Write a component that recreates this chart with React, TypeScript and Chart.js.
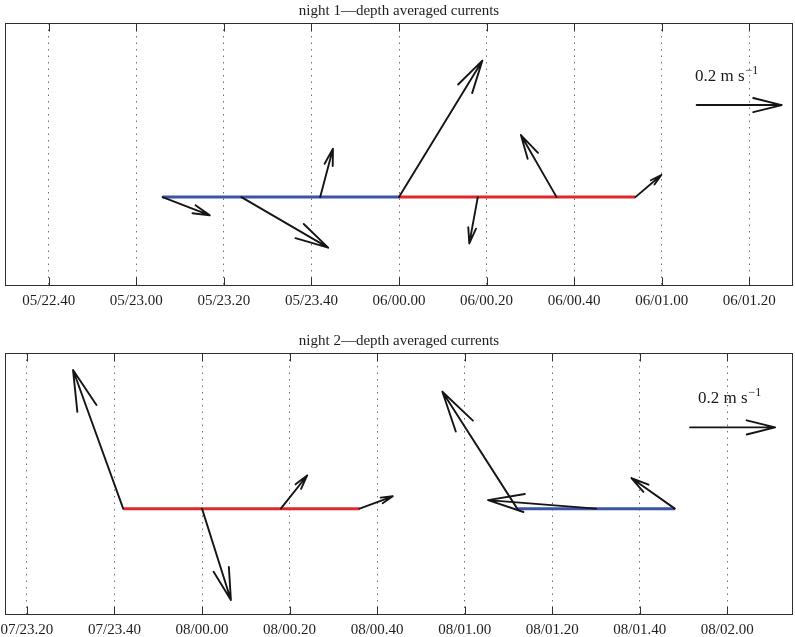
import React, { useEffect, useRef } from 'react';
import { Chart, registerables } from 'chart.js';

Chart.register(...registerables);

const FONT = '"Liberation Serif", "Times New Roman", Times, serif';

// ---------- Panel 1 (night 1) ----------
const TITLE_1 = 'night 1—depth averaged currents';
const TICKS_1 = [-80, -60, -40, -20, 0, 20, 40, 60, 80]; // minutes from 06/00.00
const TICK_LABELS_1 = ['05/22.40', '05/23.00', '05/23.20', '05/23.40', '06/00.00', '06/00.20', '06/00.40', '06/01.00', '06/01.20'];
const X_MIN_1 = -90;
const X_MAX_1 = 90;
const TIMES_1 = [-54, -36, -18, 0, 18, 36, 54];
const U_1 = [0.111, 0.204, 0.030, 0.196, -0.020, -0.084, 0.061]; // m/s east
const V_1 = [-0.043, -0.119, 0.114, 0.321, -0.109, 0.146, 0.052]; // m/s north
const BLUE_TRACK_1 = [-54, 0];
const RED_TRACK_1 = [0, 54];
const REF_X_1 = 68;

// ---------- Panel 2 (night 2) ----------
const TITLE_2 = 'night 2—depth averaged currents';
const TICKS_2 = [-40, -20, 0, 20, 40, 60, 80, 100, 120]; // minutes from 08/00.00
const TICK_LABELS_2 = ['07/23.20', '07/23.40', '08/00.00', '08/00.20', '08/00.40', '08/01.00', '08/01.20', '08/01.40', '08/02.00'];
const X_MIN_2 = -45;
const X_MAX_2 = 135;
const TIMES_2 = [-18, 0, 18, 36, 72, 90, 108];
const U_2 = [-0.118, 0.068, 0.062, 0.078, -0.176, -0.254, -0.102];
const V_2 = [0.326, -0.215, 0.078, 0.029, 0.275, 0.020, 0.072];
const RED_TRACK_2 = [-18, 36];
const BLUE_TRACK_2 = [72, 108];
const REF_X_2 = 111.5;

// reference arrow
const REF_SPEED = 0.2;
const REF_LABEL = '0.2 m s';
const REF_EXP = '−1';

// style constants
const QUIVER_MIN_PER_MS = 97.1; // arrow length: x-axis minutes per 1 m/s
const BLUE = '#3a55a3';
const RED = '#e0282d';
const ARROW_COLOR = '#151515';

type PanelCfg = {
  title: string;
  ticks: number[];
  tickLabels: string[];
  xMin: number;
  xMax: number;
  yMin: number;
  yMax: number;
  times: number[];
  u: number[];
  v: number[];
  tracks: { range: number[]; color: string }[];
  refX: number;
  refY: number;
  refLabelX: number;
  headCap: number;
  top: number;
  height: number;
  padBottom: number;
  axisHeight: number;
};

function drawArrow(ctx: CanvasRenderingContext2D, x0: number, y0: number, x1: number, y1: number, cap: number) {
  const L = Math.hypot(x1 - x0, y1 - y0);
  const h = Math.min(0.345 * L, cap);
  const a = Math.atan2(y1 - y0, x1 - x0);
  const da = (14 * Math.PI) / 180;
  ctx.beginPath();
  ctx.moveTo(x0, y0);
  ctx.lineTo(x1, y1);
  ctx.moveTo(x1 - h * Math.cos(a - da), y1 - h * Math.sin(a - da));
  ctx.lineTo(x1, y1);
  ctx.lineTo(x1 - h * Math.cos(a + da), y1 - h * Math.sin(a + da));
  ctx.stroke();
}

function Panel({ cfg }: { cfg: PanelCfg }) {
  const ref = useRef<HTMLCanvasElement | null>(null);
  useEffect(() => {
    if (!ref.current) return;
    const quiverPlugin = {
      id: 'quiver',
      afterDatasetsDraw(chart: any) {
        const ctx = chart.ctx as CanvasRenderingContext2D;
        const xs = chart.scales.x;
        const ys = chart.scales.y;
        const area = chart.chartArea;
        const pxPerMs = Math.abs(xs.getPixelForValue(QUIVER_MIN_PER_MS) - xs.getPixelForValue(0));
        ctx.save();
        ctx.strokeStyle = ARROW_COLOR;
        ctx.lineWidth = 1.9;
        ctx.lineCap = 'round';
        ctx.lineJoin = 'round';
        const yb = ys.getPixelForValue(0);
        cfg.times.forEach((t, i) => {
          const x0 = xs.getPixelForValue(t);
          drawArrow(ctx, x0, yb, x0 + cfg.u[i] * pxPerMs, yb - cfg.v[i] * pxPerMs, cfg.headCap);
        });
        // reference arrow
        const rx = xs.getPixelForValue(cfg.refX);
        const ry = ys.getPixelForValue(cfg.refY);
        drawArrow(ctx, rx, ry, rx + REF_SPEED * pxPerMs, ry, cfg.headCap);
        // label
        ctx.fillStyle = '#1a1a1a';
        ctx.font = `17px ${FONT}`;
        ctx.textBaseline = 'alphabetic';
        ctx.textAlign = 'left';
        const lx = xs.getPixelForValue(cfg.refLabelX);
        const ly = ry - 24;
        ctx.fillText(REF_LABEL, lx, ly);
        const w = ctx.measureText(REF_LABEL).width;
        ctx.font = `12px ${FONT}`;
        ctx.fillText(REF_EXP, lx + w + 1, ly - 7);
        ctx.restore();

        // frame and inward tick marks
        ctx.save();
        ctx.strokeStyle = '#2e2e2e';
        ctx.lineWidth = 1;
        const l = Math.round(area.left) + 0.5;
        const r = Math.round(area.right) - 0.5;
        const tp = Math.round(area.top) + 0.5;
        const bt = Math.round(area.bottom) - 0.5;
        ctx.strokeRect(l, tp, r - l, bt - tp);
        ctx.beginPath();
        cfg.ticks.forEach((v) => {
          const x = Math.round(xs.getPixelForValue(v)) + 0.5;
          ctx.moveTo(x, tp);
          ctx.lineTo(x, tp + 8);
          ctx.moveTo(x, bt);
          ctx.lineTo(x, bt - 8);
        });
        ctx.stroke();
        ctx.restore();
      },
    };

    const datasets = cfg.tracks.map((tr) => ({
      data: tr.range.map((x) => ({ x, y: 0 })),
      borderColor: tr.color,
      borderWidth: 3,
      pointRadius: 0,
      borderCapStyle: 'butt' as const,
      fill: false,
    }));

    const chart = new Chart(ref.current, {
      type: 'line',
      data: { datasets },
      options: {
        responsive: false,
        animation: false,
        devicePixelRatio: 1,
        layout: { padding: { left: 5, right: 2, top: 0, bottom: cfg.padBottom } },
        plugins: {
          legend: { display: false },
          tooltip: { enabled: false },
          title: {
            display: true,
            text: cfg.title,
            color: '#1e1e1e',
            font: { family: FONT, size: 15, weight: 'normal', lineHeight: 1 },
            padding: { top: 4, bottom: 4 },
          },
        },
        scales: {
          x: {
            type: 'linear',
            min: cfg.xMin,
            max: cfg.xMax,
            afterBuildTicks: (scale: any) => {
              scale.ticks = cfg.ticks.map((v) => ({ value: v }));
            },
            afterFit: (scale: any) => {
              scale.paddingLeft = 0;
              scale.paddingRight = 0;
              scale.height = cfg.axisHeight;
            },
            ticks: {
              autoSkip: false,
              maxRotation: 0,
              padding: 6,
              color: '#1e1e1e',
              font: { family: FONT, size: 15 },
              callback: (_v: any, i: number) => cfg.tickLabels[i],
            },
            grid: { display: true, drawTicks: false, color: '#6f6f6f', lineWidth: 1 },
            border: { display: false, dash: [1.5, 5] },
          },
          y: {
            type: 'linear',
            display: false,
            min: cfg.yMin,
            max: cfg.yMax,
          },
        },
      },
      plugins: [quiverPlugin],
    } as any);
    return () => chart.destroy();
  }, [cfg]);
  return (
    <canvas
      ref={ref}
      width={795}
      height={cfg.height}
      style={{ position: 'absolute', left: 0, top: cfg.top, width: 795, height: cfg.height }}
    />
  );
}

const PANEL_1: PanelCfg = {
  title: TITLE_1,
  ticks: TICKS_1,
  tickLabels: TICK_LABELS_1,
  xMin: X_MIN_1,
  xMax: X_MAX_1,
  yMin: -0.338,
  yMax: 0.662,
  times: TIMES_1,
  u: U_1,
  v: V_1,
  tracks: [
    { range: BLUE_TRACK_1, color: BLUE },
    { range: RED_TRACK_1, color: RED },
  ],
  refX: REF_X_1,
  refY: 0.35,
  refLabelX: 67.6,
  headCap: 34,
  top: 0,
  height: 320,
  padBottom: 10,
  axisHeight: 24,
};

const PANEL_2: PanelCfg = {
  title: TITLE_2,
  ticks: TICKS_2,
  tickLabels: TICK_LABELS_2,
  xMin: X_MIN_2,
  xMax: X_MAX_2,
  yMin: -0.406,
  yMax: 0.594,
  times: TIMES_2,
  u: U_2,
  v: V_2,
  tracks: [
    { range: RED_TRACK_2, color: RED },
    { range: BLUE_TRACK_2, color: BLUE },
  ],
  refX: REF_X_2,
  refY: 0.31,
  refLabelX: 113.3,
  headCap: 42,
  top: 330,
  height: 307,
  padBottom: 0,
  axisHeight: 22,
};

export default function App() {
  return (
    <div style={{ position: 'absolute', left: 0, top: 0, width: 795, height: 637, background: '#fff', overflow: 'hidden' }}>
      <Panel cfg={PANEL_1} />
      <Panel cfg={PANEL_2} />
    </div>
  );
}
